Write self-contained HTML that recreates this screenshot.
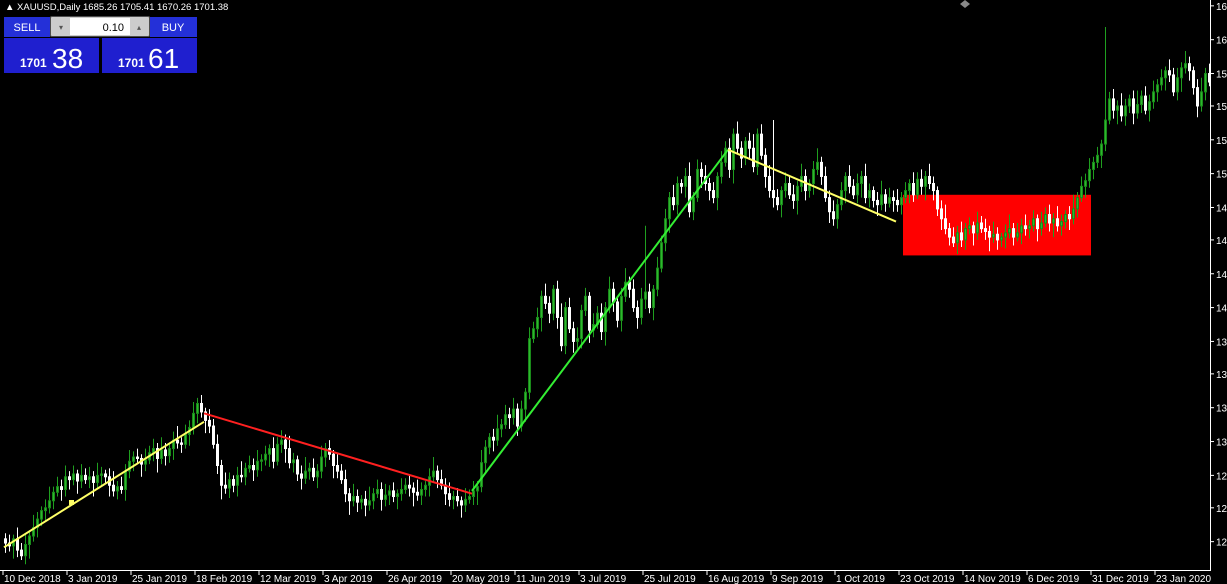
<!DOCTYPE html>
<html><head><meta charset="utf-8"><style>
html,body{margin:0;padding:0;background:#000;width:1227px;height:584px;overflow:hidden}
svg{display:block;font-family:"Liberation Sans",sans-serif}
</style></head><body>
<svg id="chart" width="1227" height="584">
<rect x="0" y="0" width="1227" height="584" fill="#000"/>
<g id="rectLayer"></g>
<g id="candles"></g>
<g id="lines"></g>
<g id="axes"></g>
<text x="5" y="10" fill="#fff" font-size="9.5">▲ XAUUSD,Daily  1685.26 1705.41 1670.26 1701.38</text>
<polygon points="965,0 970,4 965,8 960,4" fill="#888"/>
<g>
 <rect x="4" y="17" width="46" height="20" fill="#2430d8"/>
 <text x="27" y="31" fill="#fff" font-size="11" text-anchor="middle">SELL</text>
 <rect x="51" y="17" width="98" height="19" fill="#fff" stroke="#999"/>
 <rect x="52" y="18" width="18" height="17" fill="#ccc"/>
 <text x="61" y="30" fill="#555" font-size="8" text-anchor="middle">▾</text>
 <rect x="130" y="18" width="18" height="17" fill="#ccc"/>
 <text x="139" y="30" fill="#555" font-size="8" text-anchor="middle">▴</text>
 <text x="124" y="31" fill="#000" font-size="11" text-anchor="end">0.10</text>
 <rect x="150" y="17" width="47" height="20" fill="#2430d8"/>
 <text x="173" y="31" fill="#fff" font-size="11" text-anchor="middle">BUY</text>
 <rect x="4" y="38" width="95" height="35" fill="#1f1fcf"/>
 <text x="20" y="67" fill="#fff" font-size="12" font-weight="bold">1701</text>
 <text x="52" y="68" fill="#fff" font-size="28">38</text>
 <rect x="102" y="38" width="95" height="35" fill="#1f1fcf"/>
 <text x="118" y="67" fill="#fff" font-size="12" font-weight="bold">1701</text>
 <text x="148" y="68" fill="#fff" font-size="28">61</text>
</g>
</svg>
<script>
const closes = [
1245,1243,1248,1240,1236,1244,1250,1256,1262,1268,1270,1275,1281,1285,1283,1292,
1290,1294,1289,1293,1290,1292,1288,1293,1294,1292,1286,1282,1285,1283,1296,1303,
1306,1305,1301,1304,1309,1312,1305,1311,1307,1312,1318,1316,1315,1322,1327,1337,
1344,1338,1332,1328,1315,1300,1286,1284,1290,1286,1293,1292,1298,1300,1297,1303,
1304,1308,1312,1303,1315,1318,1312,1302,1304,1294,1291,1296,1298,1292,1296,1306,
1312,1308,1300,1296,1290,1280,1275,1278,1274,1276,1272,1275,1280,1283,1276,1279,
1282,1278,1280,1283,1286,1284,1281,1279,1283,1286,1292,1296,1290,1286,1280,1276,
1278,1275,1272,1276,1278,1282,1285,1302,1313,1320,1318,1326,1329,1336,1334,1340,
1328,1340,1352,1390,1397,1405,1420,1415,1408,1425,1405,1385,1412,1397,1388,1390,
1410,1420,1396,1400,1408,1395,1412,1425,1416,1403,1420,1430,1425,1412,1405,1418,
1423,1412,1425,1440,1458,1475,1490,1485,1500,1498,1505,1480,1490,1510,1505,1500,
1495,1490,1505,1515,1525,1510,1535,1525,1518,1530,1525,1512,1535,1520,1505,1495,
1490,1485,1495,1500,1492,1488,1498,1505,1495,1500,1510,1515,1505,1490,1480,1475,
1485,1495,1505,1498,1492,1500,1505,1490,1495,1488,1485,1492,1486,1490,1488,1485,
1490,1495,1500,1492,1503,1498,1505,1500,1495,1482,1475,1468,1462,1458,1465,1460,
1468,1470,1465,1472,1468,1466,1462,1464,1460,1462,1465,1468,1462,1465,1470,1468,
1470,1475,1468,1472,1478,1472,1475,1470,1473,1478,1475,1482,1490,1498,1502,1510,
1515,1520,1528,1545,1560,1552,1555,1548,1555,1560,1550,1556,1562,1552,1558,1565,
1570,1575,1580,1577,1565,1575,1582,1585,1580,1568,1555,1565,1578,1572];
const wicks = [4,6,3,8,5,7,4,9,5,3,6,10,4,7,5,8];
const spikeIdx = [275, 160, 192];
const spikeHigh = [1611, 1470, 1545];
const dateLabels = ["10 Dec 2018","3 Jan 2019","25 Jan 2019","18 Feb 2019","12 Mar 2019","3 Apr 2019","26 Apr 2019","20 May 2019","11 Jun 2019","3 Jul 2019","25 Jul 2019","16 Aug 2019","9 Sep 2019","1 Oct 2019","23 Oct 2019","14 Nov 2019","6 Dec 2019","31 Dec 2019","23 Jan 2020"];
const priceTicks = [1626,1602,1578,1555,1531,1507,1483,1460,1436,1412,1388,1365,1341,1317,1293,1270,1246];
const trendStartBar = [0,50,117,181];
const trendStartPrice = [1242,1337,1282,1524];
const trendEndBar = [50,117,181,223];
const trendEndPrice = [1331,1280,1524,1473];
const trendColors = ["#ffff66","#ff2020","#33ee33","#ffff66"];
const boxBars = [225,272];
const boxPrices = [1492,1449];

const NS="http://www.w3.org/2000/svg";
const xOf = i => 4 + i*4;
const yOf = p => 27 + (1611 - p)*1.41;
function mk(tag, attrs, parent){const e=document.createElementNS(NS,tag);for(const k in attrs)e.setAttribute(k,attrs[k]);parent.appendChild(e);return e;}

const rl=document.getElementById('rectLayer');
const box=mk('rect',{x:xOf(boxBars[0])-1,y:yOf(boxPrices[0]),width:xOf(boxBars[1])-xOf(boxBars[0]),height:yOf(boxPrices[1])-yOf(boxPrices[0]),fill:'#ff0000'},rl);



const cg=document.getElementById('candles');
closes.forEach((c,i)=>{
  const o = i===0 ? 1248 : closes[i-1];
  let hi = Math.max(o,c)+wicks[i%wicks.length];
  let lo = Math.min(o,c)-wicks[(i+5)%wicks.length];
  const s=spikeIdx.indexOf(i); if(s>=0) hi=spikeHigh[s];
  const x=xOf(i), bull=c>=o;
  const col = bull ? '#1f9f1f' : '#ffffff';
  const w=mk('line',{x1:x+1.5,x2:x+1.5,y1:yOf(hi),y2:yOf(lo),stroke:col,'stroke-width':1},cg);
  
  
  const top=yOf(Math.max(o,c)), h=Math.max(1,yOf(Math.min(o,c))-top);
  const b=mk('rect',{x:x+0.5,y:top,width:2,height:h,fill:bull?'#2db82d':'none',stroke:bull?'#1a8a1a':'#fff','stroke-width':1},cg);
  
  
});

const lg=document.getElementById('lines');
trendStartBar.forEach((sb,k)=>{
  const l=mk('line',{x1:xOf(sb),y1:yOf(trendStartPrice[k]),x2:xOf(trendEndBar[k]),y2:yOf(trendEndPrice[k]),stroke:trendColors[k],'stroke-width':2},lg);
  
  
});
mk('rect',{x:69,y:500,width:5,height:5,fill:'#ffff66'},lg);

const ag=document.getElementById('axes');
mk('line',{x1:1210.5,y1:0,x2:1210.5,y2:570,stroke:'#fff'},ag);
mk('line',{x1:0,y1:570.5,x2:1211,y2:570.5,stroke:'#fff'},ag);
priceTicks.forEach(p=>{
  const y=yOf(p);
  mk('line',{x1:1210,x2:1214,y1:y,y2:y,stroke:'#fff'},ag);
  const t=mk('text',{x:1216,y:y+4,fill:'#fff','font-size':10},ag);
  t.textContent=p.toFixed(2);
  
  
});
dateLabels.forEach((d,k)=>{
  const x=xOf(k*16)-1;
  mk('line',{x1:x,x2:x,y1:570,y2:575,stroke:'#fff'},ag);
  const t=mk('text',{x:x+1,y:582,fill:'#fff','font-size':10},ag);
  t.textContent=d;
  
  
});
</script>
</body></html>
